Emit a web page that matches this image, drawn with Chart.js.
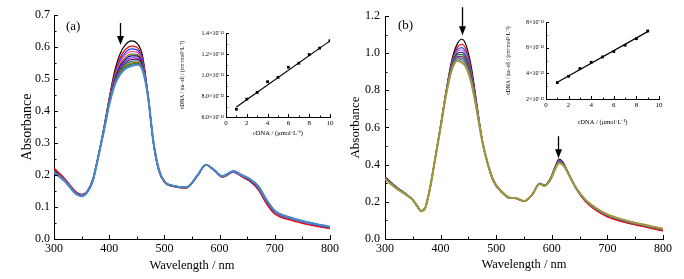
<!DOCTYPE html>
<html>
<head>
<meta charset="utf-8">
<script src="https://cdn.jsdelivr.net/npm/chart.js@4.4.1/dist/chart.umd.min.js"></script>
<style>
  body { margin: 0; background: #fff; width: 684px; height: 279px; position: relative; overflow: hidden; }
  canvas { position: absolute; }
</style>
</head>
<body>
<canvas id="mainA" width="342" height="279" style="left:0;top:0"></canvas>
<canvas id="mainB" width="342" height="279" style="left:342px;top:0"></canvas>
<canvas id="insetA" width="160" height="115" style="left:176px;top:26px"></canvas>
<canvas id="insetB" width="178" height="120" style="left:500px;top:10px"></canvas>
<script>
// ---- panel (a): absorption spectra, wavelength grid + one row per titration step
var wlA = [300,320,340,350,360,370,380,390,400,410,420,430,440,450,460,470,480,490,500,520,540,560,575,590,605,625,640,655,670,685,700,730,760,800];
var specA = [
  [.218,.186,.146,.139,.149,.185,.258,.345,.440,.525,.580,.608,.619,.612,.575,.455,.300,.212,.178,.163,.160,.198,.232,.214,.193,.209,.195,.180,.155,.112,.080,.060,.047,.034],
  [.222,.188,.147,.139,.149,.185,.257,.343,.436,.516,.567,.593,.603,.599,.566,.454,.301,.213,.178,.163,.160,.198,.232,.214,.193,.209,.195,.180,.154,.110,.078,.058,.045,.032],
  [.215,.184,.144,.137,.148,.183,.257,.342,.434,.511,.559,.584,.594,.591,.561,.453,.302,.214,.179,.164,.161,.198,.232,.215,.194,.210,.197,.182,.158,.115,.083,.062,.049,.035],
  [.214,.184,.144,.137,.148,.183,.257,.341,.432,.507,.553,.577,.586,.584,.556,.453,.302,.214,.179,.164,.161,.198,.232,.215,.194,.210,.197,.183,.159,.116,.083,.062,.049,.036],
  [.213,.183,.143,.136,.147,.182,.256,.340,.430,.503,.546,.569,.578,.577,.552,.452,.303,.215,.179,.164,.161,.198,.232,.215,.195,.211,.198,.184,.160,.117,.084,.063,.050,.036],
  [.212,.182,.143,.136,.147,.182,.256,.339,.428,.499,.541,.563,.572,.572,.548,.452,.303,.215,.179,.164,.161,.198,.232,.215,.195,.211,.198,.184,.161,.118,.085,.064,.050,.036],
  [.211,.182,.142,.135,.147,.182,.256,.338,.426,.496,.536,.557,.566,.566,.544,.452,.303,.215,.180,.165,.162,.199,.232,.216,.195,.211,.198,.185,.162,.119,.085,.064,.050,.037],
  [.211,.181,.142,.135,.147,.181,.256,.338,.425,.493,.531,.552,.561,.562,.541,.451,.304,.216,.180,.165,.162,.199,.232,.216,.195,.211,.199,.185,.163,.120,.086,.065,.051,.037],
  [.210,.181,.142,.135,.146,.181,.256,.337,.424,.490,.527,.547,.555,.557,.538,.451,.304,.216,.180,.165,.162,.199,.232,.216,.196,.212,.199,.186,.163,.120,.087,.065,.051,.037],
  [.209,.180,.141,.134,.146,.181,.255,.336,.422,.487,.523,.542,.550,.553,.535,.451,.304,.216,.180,.165,.162,.199,.232,.216,.196,.212,.199,.186,.164,.121,.087,.065,.051,.038],
  [.209,.180,.141,.134,.146,.180,.255,.336,.421,.485,.519,.538,.546,.549,.533,.450,.305,.217,.180,.165,.162,.199,.232,.216,.196,.212,.200,.187,.165,.122,.088,.066,.052,.038],
  [.208,.180,.141,.134,.146,.180,.255,.335,.420,.482,.515,.533,.541,.545,.530,.450,.305,.217,.180,.165,.162,.199,.232,.216,.196,.212,.200,.187,.165,.122,.088,.066,.052,.038]
];
var colorsA = ['#000000','#ff0000','#1f3fff','#ff40c0','#808000','#000080','#8040ff','#800040','#008080','#c06000','#008000','#4a86c8'];

// ---- panel (b)
var wlB = [300,320,340,350,358,365,372,380,390,400,410,420,430,438,445,455,465,475,485,495,510,525,535,550,565,578,587,598,606,613,622,632,645,660,680,700,730,760,800];
var specB = [
  [.335,.282,.238,.210,.175,.150,.165,.26,.430,.610,.800,.960,1.050,1.075,1.050,.930,.730,.530,.400,.310,.250,.218,.218,.202,.24,.300,.290,.330,.390,.430,.405,.340,.265,.205,.155,.122,.093,.072,.047],
  [.332,.280,.237,.210,.176,.150,.165,.26,.429,.608,.796,.949,1.030,1.048,1.024,.911,.722,.529,.401,.311,.251,.219,.218,.202,.24,.299,.289,.328,.387,.426,.402,.340,.264,.203,.153,.119,.090,.069,.044],
  [.330,.279,.237,.210,.176,.150,.165,.26,.429,.607,.793,.942,1.018,1.030,1.007,.899,.717,.528,.401,.312,.252,.219,.219,.203,.24,.299,.289,.327,.385,.423,.401,.339,.266,.208,.159,.126,.096,.075,.050],
  [.329,.278,.236,.210,.176,.150,.165,.26,.429,.606,.791,.937,1.009,1.018,.995,.891,.714,.528,.402,.312,.252,.220,.219,.203,.24,.298,.288,.326,.384,.421,.399,.339,.267,.208,.160,.127,.097,.076,.051],
  [.328,.278,.236,.210,.177,.150,.165,.26,.428,.606,.789,.932,1.000,1.005,.983,.882,.710,.527,.402,.313,.253,.220,.219,.203,.24,.298,.288,.326,.382,.419,.398,.339,.267,.209,.161,.128,.098,.076,.051],
  [.327,.277,.235,.210,.177,.150,.165,.26,.428,.605,.787,.928,.992,.994,.972,.875,.707,.527,.403,.313,.253,.221,.219,.203,.24,.297,.287,.325,.381,.417,.397,.339,.268,.210,.162,.129,.099,.077,.052],
  [.325,.276,.235,.210,.177,.150,.165,.26,.428,.604,.785,.923,.983,.983,.961,.867,.704,.526,.403,.314,.254,.221,.219,.203,.24,.297,.287,.324,.380,.415,.396,.339,.268,.210,.162,.129,.100,.078,.053],
  [.324,.275,.235,.210,.177,.150,.165,.26,.428,.603,.784,.919,.976,.973,.952,.860,.701,.526,.403,.314,.254,.221,.220,.204,.24,.297,.287,.323,.379,.414,.395,.338,.268,.211,.163,.130,.100,.079,.054],
  [.323,.275,.234,.210,.178,.150,.165,.26,.427,.603,.782,.915,.969,.963,.942,.854,.699,.526,.404,.315,.255,.222,.220,.204,.24,.296,.286,.323,.377,.412,.394,.338,.269,.211,.164,.131,.101,.079,.054],
  [.322,.274,.234,.210,.178,.150,.165,.26,.427,.602,.780,.910,.960,.950,.930,.845,.695,.525,.404,.315,.255,.222,.220,.204,.24,.296,.286,.322,.376,.410,.393,.338,.269,.212,.165,.132,.102,.080,.055]
];
var colorsB = ['#000000','#ff0000','#2f4fe8','#c070e0','#2020a0','#208020','#803080','#606060','#4080c0','#9c9640'];

// ---- insets: c(DNA) in umol/L vs cDNA/|ea-ef| in units of 1e-12
var cDnaA = [1,2,3,4,5,6,7,8,9,10];
var ratioA = [6.74,7.70,8.34,9.36,9.78,10.74,11.12,11.95,12.56,13.26];
var fitXA = [1,10];
var fitYA = [6.95,13.25];
var yTicksA = ['6.0\u00d710\u207b\u00b9\u00b2','8.0\u00d710\u207b\u00b9\u00b2','1.0\u00d710\u207b\u00b9\u00b9','1.2\u00d710\u207b\u00b9\u00b9','1.4\u00d710\u207b\u00b9\u00b9'];

var cDnaB = [1,2,3,4,5,6,7,8,9];
var ratioB = [3.28,3.77,4.37,4.86,5.28,5.70,6.19,6.70,7.30];
var fitXB = [1,9];
var fitYB = [3.30,7.25];
var yTicksB = ['2\u00d710\u207b\u00b9\u00b2','4\u00d710\u207b\u00b9\u00b2','6\u00d710\u207b\u00b9\u00b2','8\u00d710\u207b\u00b9\u00b2'];

// arrows: [wavelength, from, to]
var arrowsA = [[420, 0.675, 0.606]];
var arrowsB = [[438, 1.247, 1.096], [611, 0.553, 0.434]];

var SERIF = "'Liberation Serif', 'Times New Roman', serif";

// inward major/minor ticks like Origin
const inTicks = {
  id: 'inTicks',
  afterDraw(chart, args, o) {
    const ctx = chart.ctx, a = chart.chartArea;
    ctx.save();
    ctx.strokeStyle = '#000';
    ctx.lineWidth = 1;
    ctx.beginPath();
    [['x', o.x], ['y', o.y]].forEach(function (p) {
      const s = chart.scales[p[0]], major = p[1][0], minor = p[1][1];
      const n = Math.round((s.max - s.min) / minor);
      for (let i = 0; i <= n; i++) {
        const v = s.min + i * minor;
        const isMajor = Math.abs(v / major - Math.round(v / major)) < 1e-6;
        const l = isMajor ? o.len[0] : o.len[1];
        const px = Math.round(s.getPixelForValue(v)) + 0.5;
        if (p[0] === 'x') { ctx.moveTo(px, a.bottom); ctx.lineTo(px, a.bottom - l); }
        else { ctx.moveTo(a.left, px); ctx.lineTo(a.left + l, px); }
      }
    });
    ctx.stroke();
    ctx.restore();
  }
};

const marks = {
  id: 'marks',
  afterDraw(chart, args, o) {
    const ctx = chart.ctx, x = chart.scales.x, y = chart.scales.y, a = chart.chartArea;
    ctx.save();
    ctx.fillStyle = '#000';
    ctx.strokeStyle = '#000';
    (o.arrows || []).forEach(function (r) {
      const px = Math.round(x.getPixelForValue(r[0])) + 0.5;
      const y1 = y.getPixelForValue(r[1]), y2 = y.getPixelForValue(r[2]);
      ctx.lineWidth = 1.3;
      ctx.beginPath(); ctx.moveTo(px, y1); ctx.lineTo(px, y2 - 8); ctx.stroke();
      ctx.beginPath(); ctx.moveTo(px - 3.5, y2 - 9); ctx.lineTo(px + 3.5, y2 - 9); ctx.lineTo(px, y2); ctx.closePath(); ctx.fill();
    });
    if (o.label) {
      ctx.font = '13px ' + SERIF;
      ctx.textBaseline = 'middle';
      ctx.fillText(o.label, a.left + o.dx, a.top + o.dy);
    }
    ctx.restore();
  }
};

function spectraChart(id, wl, rows, colors, cfg) {
  const n = rows.length;
  const datasets = rows.map(function (r, i) {
    return {
      data: wl.map(function (w, j) { return { x: w, y: r[j] }; }),
      borderColor: colors[i],
      borderWidth: i === n - 1 ? 2.2 : 1.2,
      pointRadius: 0,
      fill: false,
      cubicInterpolationMode: 'monotone',
      order: n - i
    };
  });
  return new Chart(document.getElementById(id), {
    type: 'line',
    data: { datasets: datasets },
    plugins: [inTicks, marks],
    options: {
      responsive: false,
      animation: false,
      layout: { padding: cfg.padding },
      plugins: {
        legend: { display: false }, tooltip: { enabled: false },
        inTicks: { x: [100, 50], y: cfg.yTicks, len: [4, 2.5] },
        marks: { arrows: cfg.arrows, label: cfg.label, dx: cfg.labelDx, dy: cfg.labelDy }
      },
      scales: {
        x: {
          type: 'linear', min: 300, max: 800,
          ticks: { stepSize: 100, color: '#000', padding: 3, font: { family: SERIF, size: 12 } },
          grid: { display: true, drawOnChartArea: false, drawTicks: false },
          border: { color: '#000', width: 1 },
          title: { display: true, text: 'Wavelength / nm', color: '#000', font: { family: SERIF, size: 12.5 }, padding: { top: 0, bottom: cfg.xTitlePad } },
          afterFit: function (s) { s.height = 40; }
        },
        y: {
          min: 0, max: cfg.yMax,
          ticks: { stepSize: cfg.yTicks[0], color: '#000', padding: cfg.yLabelPad, font: { family: SERIF, size: 12 },
                   callback: function (v) { return v.toFixed(1); } },
          grid: { display: true, drawOnChartArea: false, drawTicks: false },
          border: { color: '#000', width: 1 },
          title: { display: true, text: 'Absorbance', color: '#000', font: { family: SERIF, size: cfg.yTitleSize }, padding: { top: cfg.yTitlePad, bottom: 0 } },
          afterFit: function (s) { s.width = cfg.yWidth; }
        }
      }
    }
  });
}

function insetChart(id, cx, cy, fx, fy, yLabels, cfg) {
  return new Chart(document.getElementById(id), {
    type: 'scatter',
    data: {
      datasets: [
        { data: cx.map(function (v, i) { return { x: v, y: cy[i] }; }), pointStyle: 'rect', pointRadius: 2, backgroundColor: '#000', borderColor: '#000', borderWidth: 0 },
        { type: 'line', data: fx.map(function (v, i) { return { x: v, y: fy[i] }; }), borderColor: '#000', borderWidth: 1.2, pointRadius: 0, fill: false }
      ]
    },
    plugins: [inTicks],
    options: {
      responsive: false,
      animation: false,
      layout: { padding: cfg.padding },
      plugins: { legend: { display: false }, tooltip: { enabled: false }, inTicks: { x: [2, 1], y: [2, 1], len: [3, 1.5] } },
      scales: {
        x: {
          type: 'linear', min: 0, max: 10,
          ticks: { stepSize: 2, color: '#000', padding: 2, font: { family: SERIF, size: 7 } },
          grid: { display: true, drawOnChartArea: false, drawTicks: false },
          border: { color: '#000', width: 1 },
          title: { display: true, text: 'cDNA / (\u03bcmol\u00b7L\u207b\u00b9)', color: '#000', font: { family: SERIF, size: 6.5 }, padding: { top: 0, bottom: cfg.xTitlePad } },
          afterFit: function (s) { s.height = cfg.xHeight; }
        },
        y: {
          min: cfg.yMin, max: cfg.yMax,
          ticks: { stepSize: 2, color: '#000', padding: 2, font: { family: SERIF, size: 6 },
                   callback: function (v, i) { return yLabels[i]; } },
          grid: { display: true, drawOnChartArea: false, drawTicks: false },
          border: { color: '#000', width: 1 },
          title: { display: true, text: 'cDNA / |\u03b5a\u2212\u03b5f| / (cm\u00b7mol\u00b2\u00b7L\u207b\u00b2)', color: '#000', font: { family: SERIF, size: 5.5 }, padding: { top: cfg.yTitlePad, bottom: 0 } },
          afterFit: function (s) { s.width = cfg.yWidth; }
        }
      }
    }
  });
}

spectraChart('mainA', wlA, specA, colorsA, {
  padding: { top: 15, right: 9, left: 0, bottom: 0 },
  yMax: 0.7, yTicks: [0.1, 0.05], yWidth: 54, yLabelPad: 4,
  yTitleSize: 14, yTitlePad: 19, xTitlePad: 6,
  arrows: arrowsA, label: '(a)', labelDx: 12, labelDy: 12
});
spectraChart('mainB', wlB, specB, colorsB, {
  padding: { top: 16, right: 21, left: 0, bottom: 0 },
  yMax: 1.2, yTicks: [0.2, 0.1], yWidth: 43, yLabelPad: 5,
  yTitleSize: 13, yTitlePad: 6, xTitlePad: 7,
  arrows: arrowsB, label: '(b)', labelDx: 13, labelDy: 10
});
insetChart('insetA', cDnaA, ratioA, fitXA, fitYA, yTicksA, {
  padding: { top: 7, right: 6, left: 0, bottom: 0 },
  yMin: 6, yMax: 14, yWidth: 50, xHeight: 24, yTitlePad: 3.5, xTitlePad: 4
});
insetChart('insetB', cDnaB, ratioB, fitXB, fitYB, yTicksB, {
  padding: { top: 12, right: 19, left: 0, bottom: 0 },
  yMin: 2, yMax: 8, yWidth: 46, xHeight: 31, yTitlePad: 5.5, xTitlePad: 3.5
});
</script>
</body>
</html>
